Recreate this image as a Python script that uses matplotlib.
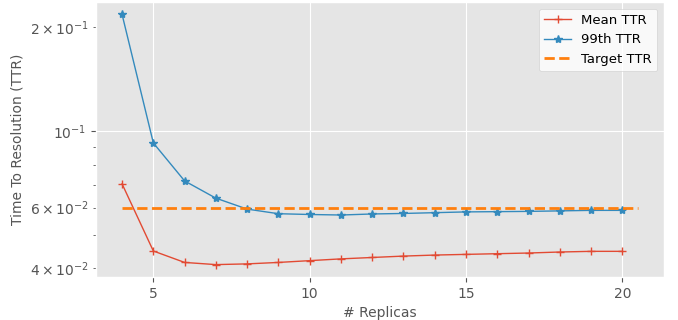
import matplotlib
matplotlib.use('Agg')
from matplotlib import pyplot as plt
import numpy as np

plt.style.use('ggplot')

replicas = np.arange(4, 21)
mean_ttr = [0.0703, 0.0449, 0.0416, 0.0410, 0.0412, 0.0416, 0.0421, 0.0426,
            0.0430, 0.0434, 0.0437, 0.0439, 0.0441, 0.0443, 0.0446, 0.0448,
            0.0448]
p99_ttr = [0.218, 0.0924, 0.0717, 0.0639, 0.0594, 0.0576, 0.0573, 0.0571,
           0.0575, 0.0577, 0.0580, 0.0583, 0.0584, 0.0585, 0.0587, 0.0589,
           0.0589]
target_x = [4, 20.5]
target_ttr = 0.06

fig = plt.figure(figsize=(6.78, 3.2), dpi=100)
ax = fig.add_axes([0.142, 0.134, 0.837, 0.86])
ax.plot(replicas, mean_ttr, marker='+', linewidth=1, markersize=6,
        label='Mean TTR')
ax.plot(replicas, p99_ttr, marker='*', linewidth=1, markersize=6,
        label='99th TTR')
ax.plot(target_x, [target_ttr, target_ttr], '--', color='tab:orange',
        linewidth=2, label='Target TTR')
ax.set_yscale('log')
ax.set_xticks([5, 10, 15, 20])
ax.set_xlabel('# Replicas', fontsize=10)
ax.set_ylabel('Time To Resolution (TTR)', fontsize=10)
ax.legend(loc='upper right', facecolor='white', fontsize=9.5)
fig.savefig('out.png')
